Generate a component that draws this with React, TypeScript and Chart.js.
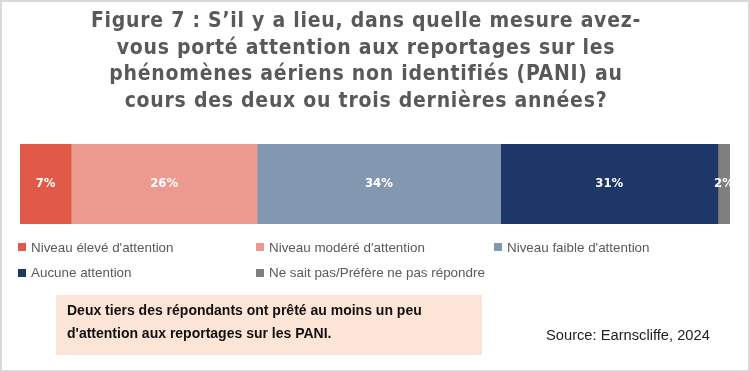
import React, { useEffect, useRef } from "react";
import { Chart, registerables } from "chart.js";

Chart.register(...registerables);

const titleLines = [
  "Figure 7 : S’il y a lieu, dans quelle mesure avez-",
  "vous porté attention aux reportages sur les",
  "phénomènes aériens non identifiés (PANI) au",
  "cours des deux ou trois dernières années?",
];
const categories = [""];
const seriesNames = [
  "Niveau élevé d'attention",
  "Niveau modéré d'attention",
  "Niveau faible d'attention",
  "Aucune attention",
  "Ne sait pas/Préfère ne pas répondre",
];
const seriesValues = [7.2, 26.2, 34.3, 30.6, 1.7];
const seriesLabels = ["7%", "26%", "34%", "31%", "2%"];
const seriesColors = ["#E05A47", "#EC9A90", "#8497B0", "#1D3769", "#7F7F7F"];
const noteLines = [
  "Deux tiers des répondants ont prêté au moins un peu",
  "d'attention aux reportages sur les PANI.",
];
const sourceText = "Source: Earnscliffe, 2024";

const NARROW = "'DejaVu Sans Condensed', 'Liberation Sans', sans-serif";
const SANS = "'Liberation Sans', 'Open Sans', sans-serif";

const labelPlugin = {
  id: "segLabels",
  afterDatasetsDraw(chart: any) {
    const ctx = chart.ctx;
    ctx.save();
    ctx.fillStyle = "#FFFFFF";
    ctx.font = `bold 13px ${NARROW}`;
    ctx.textAlign = "center";
    ctx.textBaseline = "middle";
    chart.data.datasets.forEach((ds: any, i: number) => {
      const meta = chart.getDatasetMeta(i);
      meta.data.forEach((el: any) => {
        const cx = (el.x + el.base) / 2;
        ctx.fillText(seriesLabels[i], cx, el.y);
      });
    });
    ctx.restore();
  },
};

export default function App() {
  const ref = useRef<HTMLCanvasElement | null>(null);

  useEffect(() => {
    if (!ref.current) return;
    const chart = new Chart(ref.current, {
      type: "bar",
      data: {
        labels: categories,
        datasets: seriesNames.map((name, i) => ({
          label: name,
          data: [seriesValues[i]],
          backgroundColor: seriesColors[i],
          borderWidth: 0,
          barPercentage: 1,
          categoryPercentage: 1,
        })),
      },
      options: {
        indexAxis: "y",
        responsive: false,
        devicePixelRatio: 1,
        animation: false,
        layout: { padding: { left: 20, right: 20, top: 144, bottom: 148 } },
        scales: {
          x: { stacked: true, min: 0, max: 100, display: false },
          y: { stacked: true, display: false },
        },
        plugins: {
          legend: { display: false },
          title: { display: false },
          tooltip: { enabled: false },
        },
      },
      plugins: [labelPlugin],
    });
    return () => chart.destroy();
  }, []);

  const abs = (left: number, top: number, extra: any = {}) => ({
    position: "absolute" as const,
    left,
    top,
    ...extra,
  });

  return (
    <div
      style={{
        position: "absolute",
        left: 0,
        top: 0,
        width: 750,
        height: 372,
        boxSizing: "border-box",
        border: "2px solid #D9D9D9",
        background: "#FFFFFF",
        overflow: "hidden",
      }}
    >
      <canvas
        ref={ref}
        width={750}
        height={372}
        style={{ position: "absolute", left: -2, top: -2, width: 750, height: 372 }}
      />
      <div
        style={abs(-6, 5, {
          width: 740,
          textAlign: "center",
          fontFamily: NARROW,
          fontWeight: "bold",
          fontSize: 21,
          letterSpacing: "0.75px",
          lineHeight: "26.5px",
          color: "#595959",
        })}
      >
        {titleLines.map((t, i) => (
          <div key={i}>{t}</div>
        ))}
      </div>
      {seriesNames.map((name, i) => {
        const col = i % 3;
        const row = Math.floor(i / 3);
        return (
          <div
            key={i}
            style={abs(16 + col * 238, 236 + row * 25.5, {
              display: "flex",
              alignItems: "center",
              height: 18,
              fontFamily: SANS,
              fontSize: 13.4,
              color: "#595959",
              whiteSpace: "nowrap",
            })}
          >
            <span
              style={{
                display: "inline-block",
                width: 8,
                height: 8,
                background: seriesColors[i],
                marginRight: 5,
              }}
            />
            <span>{name}</span>
          </div>
        );
      })}
      <div
        style={abs(54, 293, {
          width: 426,
          height: 60,
          background: "#FCE4D6",
          boxSizing: "border-box",
          padding: "4px 0 0 11px",
          fontFamily: SANS,
          fontWeight: "bold",
          fontSize: 14,
          lineHeight: "23px",
          color: "#111111",
        })}
      >
        {noteLines.map((t, i) => (
          <div key={i}>{t}</div>
        ))}
      </div>
      <div
        style={abs(544, 325, {
          fontFamily: SANS,
          fontSize: 14.7,
          color: "#222222",
          whiteSpace: "nowrap",
        })}
      >
        {sourceText}
      </div>
    </div>
  );
}
